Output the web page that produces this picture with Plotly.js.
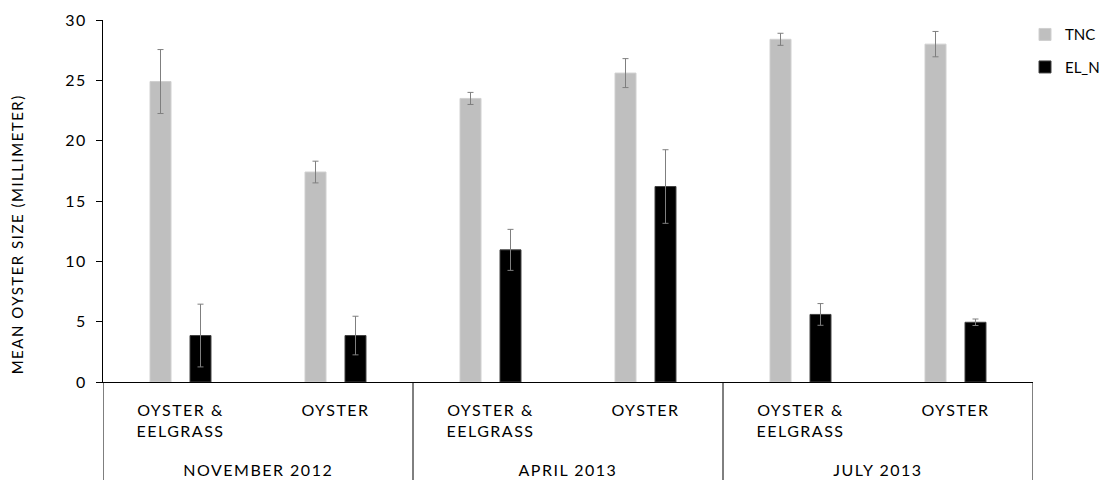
<!DOCTYPE html>
<html>
<head>
<meta charset="utf-8">
<script src="https://cdn.plot.ly/plotly-3.0.1.min.js"></script>
<style>
html,body{margin:0;padding:0;background:#fff;}
#chart{width:1104px;height:480px;}
#chart text{letter-spacing:1.5px;}
#chart .legend text{letter-spacing:0px;}
</style>
</head>
<body>
<div id="chart"></div>
<script>
// ---- data ----
const months = ['NOVEMBER 2012', 'APRIL 2013', 'JULY 2013'];
const sites = ['OYSTER &<br>EELGRASS', 'OYSTER'];
const tncValues = [24.9, 17.4, 23.5, 25.6, 28.4, 28.0];
const tncErrors = [2.65, 0.9, 0.5, 1.2, 0.5, 1.05];
const elnValues = [3.85, 3.85, 10.95, 16.2, 5.6, 4.95];
const elnErrors = [2.6, 1.6, 1.7, 3.05, 0.9, 0.27];
const yTitle = 'MEAN OYSTER SIZE (MILLIMETER)';

// category positions and labels built from the arrays above
const xPos = [];
const tickText = [];
months.forEach((m, i) => sites.forEach((s, j) => { xPos.push(i * sites.length + j); tickText.push(s); }));

const FONT = 'Lato, "Open Sans", sans-serif';
const errStyle = {type: 'data', visible: true, color: '#7f7f7f', thickness: 1, width: 3};

const traces = [
  {type: 'bar', name: 'TNC', x: xPos, y: tncValues, legendgroup: 'a',
   marker: {color: '#bfbfbf', line: {color: '#d0d0d0', width: 1}},
   error_y: Object.assign({array: tncErrors}, errStyle)},
  {type: 'bar', name: 'EL_N', x: xPos, y: elnValues, legendgroup: 'b',
   marker: {color: '#000000', line: {color: '#404040', width: 1}},
   error_y: Object.assign({array: elnErrors}, errStyle)}
];

const nCat = xPos.length;
const bottomY = -0.275;
const shapes = [];
for (let i = 0; i <= months.length; i++) {
  const xv = i * sites.length - 0.5;
  shapes.push({type: 'line', xref: 'x', yref: 'paper', x0: xv, x1: xv, y0: 0, y1: bottomY,
               line: {color: '#000', width: 1}});
}
const annotations = months.map((m, i) => ({
  text: m, xref: 'x', yref: 'paper', x: i * sites.length + (sites.length - 1) / 2, y: -0.242,
  showarrow: false, xanchor: 'center', yanchor: 'middle', font: {family: FONT, size: 16, color: '#000'}
}));
annotations.push({text: yTitle, xref: 'paper', yref: 'paper', x: -0.0925, y: 0.41, textangle: -90,
  showarrow: false, xanchor: 'center', yanchor: 'middle', font: {family: FONT, size: 15, color: '#000'}});

const layout = {
  width: 1104, height: 480,
  margin: {l: 103, r: 71, t: 20, b: 98, autoexpand: false},
  paper_bgcolor: '#fff', plot_bgcolor: '#fff',
  font: {family: FONT, size: 16, color: '#000'},
  barmode: 'group', bargap: 0.484, bargroupgap: 0.475,
  showlegend: true,
  legend: {x: 0.9914, y: 1.005, xanchor: 'left', yanchor: 'top', traceorder: 'grouped', tracegroupgap: 10,
           font: {family: FONT, size: 15, color: '#000'}, itemwidth: 30, bgcolor: 'rgba(0,0,0,0)'},
  xaxis: {range: [-0.5, nCat - 0.5], tickmode: 'array', tickvals: xPos, ticktext: tickText,
          showline: true, linecolor: '#000', linewidth: 1, showgrid: false, zeroline: false,
          ticks: '', ticklabelstandoff: 14, tickfont: {family: FONT, size: 16, color: '#000'}, fixedrange: true},
  yaxis: {range: [0, 30], dtick: 5, tick0: 0, showline: true, linecolor: '#000', linewidth: 1,
          showgrid: false, zeroline: false, ticks: 'outside', ticklen: 6, tickcolor: '#000',
          ticklabelstandoff: 6, tickfont: {family: FONT, size: 16, color: '#000'}},
  shapes: shapes,
  annotations: annotations
};

Plotly.newPlot('chart', traces, layout, {displayModeBar: false, staticPlot: true});
</script>
</body>
</html>
